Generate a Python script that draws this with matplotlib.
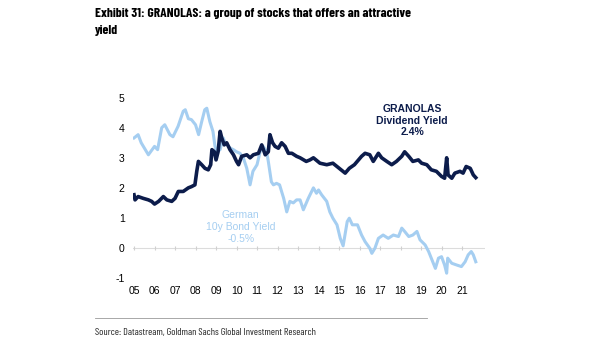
import matplotlib
matplotlib.use("Agg")
import matplotlib.pyplot as plt
from matplotlib.lines import Line2D

# ---------------- data ----------------
bund_t = [2005.0, 2005.2, 2005.35, 2005.7, 2006.0, 2006.15, 2006.35, 2006.5, 2006.75, 2006.9,
          2007.15, 2007.4, 2007.5, 2007.65, 2007.8, 2008.0, 2008.15, 2008.3, 2008.45, 2008.55,
          2008.7, 2008.85, 2008.95, 2009.03, 2009.2, 2009.35, 2009.45, 2009.7, 2009.85, 2010.0,
          2010.17, 2010.33, 2010.5, 2010.66, 2010.8, 2011.0, 2011.15, 2011.3, 2011.47, 2011.55,
          2011.7, 2011.8, 2011.95, 2012.1, 2012.3, 2012.45, 2012.6, 2012.77, 2012.93, 2013.1,
          2013.26, 2013.5, 2013.75, 2013.9, 2014.0, 2014.15, 2014.4, 2014.55, 2014.7, 2014.9,
          2015.06, 2015.2, 2015.4, 2015.5, 2015.65, 2015.9, 2016.1, 2016.27, 2016.5, 2016.6,
          2016.75, 2016.92, 2017.15, 2017.4, 2017.65, 2017.9, 2018.06, 2018.2, 2018.4, 2018.6,
          2018.8, 2018.95, 2019.2, 2019.37, 2019.5, 2019.7, 2019.85, 2020.0, 2020.15, 2020.25,
          2020.3, 2020.5, 2020.75, 2020.97, 2021.15, 2021.3, 2021.45, 2021.55, 2021.67]
bund_v = [3.66, 3.77, 3.5, 3.1, 3.38, 3.27, 4.0, 4.1, 3.77, 3.7,
          4.05, 4.55, 4.6, 4.3, 4.27, 4.1, 3.77, 4.2, 4.6, 4.65,
          4.2, 3.88, 3.38, 3.2, 3.27, 3.66, 3.5, 3.32, 3.27, 3.2,
          3.15, 3.0, 2.65, 2.1, 2.55, 2.77, 3.2, 3.38, 3.2, 2.88,
          2.2, 2.1, 2.15, 2.1, 1.65, 1.2, 1.55, 1.5, 1.6, 1.6,
          1.27, 1.65, 2.0, 1.82, 1.93, 1.77, 1.55, 1.2, 0.99, 0.77,
          0.32, 0.07, 0.88, 0.99, 0.77, 0.77, 0.43, 0.21, -0.01, -0.18,
          -0.01, 0.32, 0.43, 0.32, 0.43, 0.38, 0.66, 0.55, 0.38, 0.43,
          0.55, 0.27, 0.1, -0.12, -0.34, -0.68, -0.34, -0.29, -0.57, -0.84,
          -0.34, -0.51, -0.57, -0.62, -0.46, -0.23, -0.12, -0.23, -0.46]

gran_t = [2005.0, 2005.05, 2005.2, 2005.45, 2005.7, 2005.86, 2006.0, 2006.2, 2006.43, 2006.6,
          2006.84, 2007.0, 2007.16, 2007.4, 2007.65, 2007.8, 2007.97, 2008.06, 2008.14, 2008.3,
          2008.46, 2008.62, 2008.74, 2008.8, 2008.92, 2009.0, 2009.1, 2009.2, 2009.28, 2009.4,
          2009.52, 2009.68, 2009.85, 2010.0, 2010.1, 2010.25, 2010.5, 2010.66, 2010.82, 2011.07,
          2011.23, 2011.4, 2011.55, 2011.63, 2011.76, 2011.88, 2012.04, 2012.2, 2012.37, 2012.53,
          2012.7, 2012.93, 2013.1, 2013.4, 2013.58, 2013.75, 2014.07, 2014.4, 2014.7, 2014.9,
          2015.1, 2015.3, 2015.5, 2015.75, 2016.1, 2016.27, 2016.5, 2016.67, 2016.92, 2017.08,
          2017.33, 2017.57, 2017.8, 2018.06, 2018.2, 2018.4, 2018.6, 2018.87, 2019.03, 2019.28,
          2019.5, 2019.75, 2020.0, 2020.15, 2020.25, 2020.32, 2020.5, 2020.65, 2020.9, 2021.05,
          2021.2, 2021.4, 2021.55, 2021.67]
gran_v = [1.77, 1.6, 1.71, 1.65, 1.6, 1.55, 1.46, 1.55, 1.71, 1.6,
          1.55, 1.65, 1.88, 1.88, 2.0, 2.04, 2.1, 2.55, 2.88, 2.77,
          2.65, 2.6, 2.77, 3.27, 3.2, 2.93, 3.2, 3.88, 3.66, 3.43,
          3.5, 3.27, 3.1, 2.88, 2.77, 3.05, 3.1, 3.0, 3.1, 3.15,
          3.43, 3.1, 3.2, 3.77, 3.5, 3.38, 3.32, 3.5, 3.38, 3.15,
          3.15, 3.05, 3.0, 2.88, 2.93, 3.0, 2.82, 2.77, 2.82, 2.71,
          2.6, 2.49, 2.65, 2.77, 3.05, 3.15, 3.1, 2.88, 3.15, 3.0,
          2.88, 2.77, 2.88, 3.05, 3.2, 3.05, 2.88, 2.93, 2.82, 2.77,
          2.6, 2.55, 2.38, 2.32, 3.0, 2.43, 2.32, 2.49, 2.55, 2.49,
          2.71, 2.65, 2.43, 2.34]

year_ticks = list(range(2005, 2022))
year_labels = ["05", "06", "07", "08", "09", "10", "11", "12", "13", "14",
               "15", "16", "17", "18", "19", "20", "21"]
y_ticks = [-1, 0, 1, 2, 3, 4, 5]

title_1 = "Exhibit 31: GRANOLAS: a group of stocks that offers an attractive"
title_2 = "yield"
source = "Source: Datastream, Goldman Sachs Global Investment Research"
gran_label = "GRANOLAS\nDividend Yield\n2.4%"
bund_label = "German\n10y Bond Yield\n-0.5%"

NAVY = "#0c1c4b"
LIGHT = "#a5cef1"
COND = ["Barlow Condensed", "Roboto Condensed", "DejaVu Sans"]
SANS = ["Liberation Sans", "DejaVu Sans"]

fig = plt.figure(figsize=(6.05, 3.41), dpi=100)
ax = fig.add_axes([133 / 605, 1 - 278 / 341, (485 - 133) / 605, (278 - 97.7) / 341])

ax.axhline(0, color="#dcdcdc", lw=0.8, zorder=1)
ax.plot(year_ticks, [0] * len(year_ticks), ls="none", marker="|", ms=3,
        color="#d0d0d0", mew=0.8, zorder=1)
ax.plot(bund_t, bund_v, color=LIGHT, lw=2.2, zorder=2)
ax.plot(gran_t, gran_v, color=NAVY, lw=2.6, zorder=3)

ax.set_xlim(2004.95, 2022.12)
ax.set_ylim(-1, 5)
ax.set_xticks(year_ticks)
ax.set_xticklabels(year_labels, fontfamily=SANS, fontsize=7.5)
ax.set_yticks(y_ticks)
ax.set_yticklabels([str(v) for v in y_ticks], fontfamily=SANS, fontsize=7.5)
ax.tick_params(axis="both", length=0, colors="black")
ax.tick_params(axis="x", pad=6)
ax.tick_params(axis="y", pad=6)
for s in ax.spines.values():
    s.set_visible(False)

ax.text(2018.56, 4.23, gran_label, ha="center", va="center", color=NAVY,
        fontfamily=SANS, fontweight="bold", fontsize=7.5, linespacing=1.2)
ax.text(2010.2, 0.7, bund_label, ha="center", va="center", color=LIGHT,
        fontfamily=SANS, fontsize=7.5, linespacing=1.2)

t1 = fig.text(95 / 605, 1 - 13.5 / 341, title_1, ha="left", va="center", fontfamily=COND,
              fontweight="bold", fontsize=11)
t2 = fig.text(95 / 605, 1 - 30 / 341, title_2, ha="left", va="center", fontfamily=COND,
              fontweight="bold", fontsize=11)
fig.add_artist(Line2D([95 / 605, 427 / 605], [1 - 317.7 / 341] * 2, color="#9a9a9a", lw=0.6))
src = fig.text(95 / 605, 1 - 332 / 341, source, ha="left", va="center", fontfamily=COND,
               fontsize=7, color="#222222")

# fit the widths of the title and source lines to the reference
fig.canvas.draw()
r = fig.canvas.get_renderer()
w1 = t1.get_window_extent(r).width
fs = 11 * 317 / w1
t1.set_fontsize(fs)
t2.set_fontsize(fs)
ws = src.get_window_extent(r).width
src.set_fontsize(7 * 222 / ws)

fig.savefig("out.png", dpi=100)
